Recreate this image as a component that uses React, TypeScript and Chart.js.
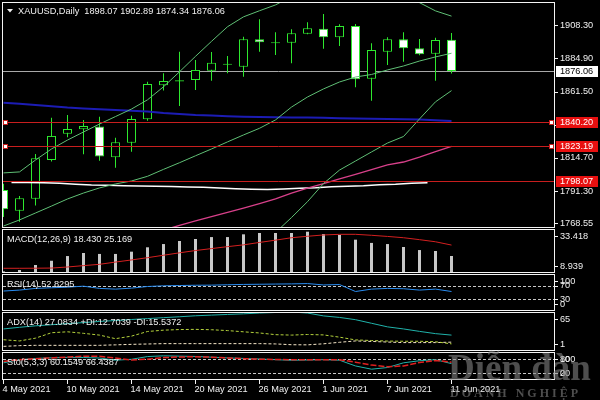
import React, { useEffect, useRef } from "react";
import { Chart, registerables } from "chart.js";

Chart.register(...registerables);

// ---------------- data ----------------
const DATES = ["2021-05-04","2021-05-05","2021-05-06","2021-05-07","2021-05-10","2021-05-11","2021-05-12","2021-05-13","2021-05-14","2021-05-17","2021-05-18","2021-05-19","2021-05-20","2021-05-21","2021-05-24","2021-05-25","2021-05-26","2021-05-27","2021-05-28","2021-05-31","2021-06-01","2021-06-02","2021-06-03","2021-06-04","2021-06-07","2021-06-08","2021-06-09","2021-06-10","2021-06-11"];
const DATE_TICK_INDEX = [0, 4, 8, 12, 16, 20, 24, 28];
const DATE_TICK_LABELS = ["4 May 2021","10 May 2021","14 May 2021","20 May 2021","26 May 2021","1 Jun 2021","7 Jun 2021","11 Jun 2021"];

const OPEN = [1792.0,1777.4,1785.9,1813.2,1831.8,1834.9,1836.8,1815.1,1825.4,1841.96,1865.97,1868.7,1869.7,1876.3,1880.5,1879.1,1898.4,1895.7,1896.0,1902.4,1905.9,1899.9,1907.8,1870.6,1889.7,1898.4,1892.1,1888.3,1898.07];
const HIGH = [1796.5,1787.8,1817.5,1843.1,1845.0,1841.5,1843.8,1829.0,1844.5,1868.5,1874.4,1889.7,1883.8,1889.5,1886.6,1900.3,1912.6,1903.4,1905.5,1910.4,1916.3,1909.0,1909.2,1895.6,1899.9,1903.4,1898.6,1899.6,1902.89];
const LOW = [1773.0,1769.7,1781.0,1812.1,1829.3,1817.2,1812.7,1807.8,1819.1,1841.0,1862.2,1851.3,1862.6,1869.2,1874.4,1872.0,1889.7,1887.4,1881.5,1902.0,1891.8,1893.7,1864.5,1855.1,1880.3,1882.6,1887.2,1869.2,1874.34];
const CLOSE = [1778.4,1786.2,1814.4,1830.2,1835.1,1837.2,1815.6,1825.7,1842.2,1866.9,1869.0,1869.5,1876.8,1881.9,1881.2,1898.4,1896.3,1896.4,1902.7,1906.2,1899.9,1907.8,1870.2,1890.9,1898.4,1892.1,1887.8,1897.9,1876.06];

const BB_UPPER = [1804.1,1804.8,1813.2,1821.0,1827.3,1833.0,1838.6,1843.9,1849.2,1855.7,1864.9,1875.5,1886.4,1897.0,1907.3,1914.3,1918.6,1922.7,1928.6,1931.6,1930.2,1930.5,1931.1,1928.3,1928.4,1929.4,1924.3,1918.5,1914.8];
const BB_MID = [1766.6,1770.9,1775.8,1780.7,1785.7,1789.9,1793.5,1796.3,1798.4,1801.7,1806.6,1811.3,1816.2,1821.0,1826.0,1830.9,1835.6,1841.5,1850.6,1857.7,1863.4,1868.3,1871.8,1873.6,1876.8,1879.6,1883.1,1886.0,1888.6];
const BB_LOWER = [null,null,null,null,null,null,null,null,null,null,null,null,null,null,null,null,null,1762.0,1772.6,1783.8,1796.6,1806.1,1812.5,1818.9,1825.2,1829.8,1842.2,1854.3,1862.2];
const MA_BLUE = [1853.6,1852.9,1852.1,1851.1,1850.2,1849.6,1849.1,1848.5,1848.0,1847.5,1846.4,1845.7,1845.0,1844.6,1844.1,1843.7,1843.5,1843.4,1843.3,1843.2,1843.0,1842.7,1842.5,1842.3,1842.2,1842.0,1841.8,1841.3,1840.8];
const MA_PINK = [null,null,null,null,null,null,null,null,null,null,1763.8,1767.0,1770.2,1773.2,1776.2,1779.3,1782.4,1785.7,1789.9,1793.3,1796.6,1799.8,1803.1,1806.5,1809.7,1811.8,1815.3,1819.2,1822.8];
// white average, displayed half a bar to the left
const MA_WHITE = [null,1797.4,1797.3,1797.1,1796.8,1796.1,1795.6,1795.4,1795.1,1794.9,1794.7,1794.5,1794.2,1793.9,1793.5,1793.0,1792.6,1792.4,1792.8,1793.3,1793.7,1794.4,1794.7,1795.1,1795.8,1796.1,1796.8,1797.2,null];

const PRICE_TICKS = [1908.30, 1884.90, 1861.50, 1838.10, 1814.70, 1791.30, 1768.55];
const LEVELS = [1840.20, 1823.19, 1798.07];
const SELECTED_LEVELS = [1840.20, 1823.19];

const MACD_MAIN = [8.939,9.8,12.9,15.5,18.4,20.3,19.7,19.7,21.1,23.8,25.8,27.7,28.9,30.1,30.1,31.8,32.6,32.6,32.6,33.418,32.0,31.4,28.5,26.5,25.8,24.0,22.1,21.5,18.430];
const MACD_SIGNAL = [10.85,10.85,10.9,11.0,11.65,12.5,13.3,14.7,16.0,17.4,18.9,20.4,21.8,23.0,24.2,25.3,26.8,28.2,29.7,30.6,31.4,31.8,31.8,31.2,30.5,29.7,28.5,27.2,25.169];
const MACD_TICKS = [33.418, 8.939];

const RSI = [54.2,56.9,61.7,63.6,65.3,68.1,61.7,59.7,62.5,67.2,69.2,70.0,70.8,71.1,72.2,73.1,73.6,74.2,74.7,75.6,71.7,72.8,52.8,59.7,61.7,60.8,56.9,59.7,52.8295];
const RSI_TICKS = [100, 70, 30, 0];
const RSI_LEVELS = [70, 30];

const ADX = [37.2,39.9,42.3,44.1,46.0,47.6,49.5,51.0,52.7,54.2,55.7,57.2,58.8,59.9,61.0,62.0,63.3,64.2,65.0,63.3,58.6,56.1,52.4,46.5,40.6,37.2,33.2,29.5,27.0834];
const PLUS_DI = [19.5,17.5,22.1,31.0,32.5,30.0,27.1,21.2,25.4,33.0,35.2,36.2,36.5,35.9,34.5,32.5,30.6,27.8,27.1,28.1,27.4,23.7,19.2,18.2,17.3,17.0,17.0,16.2,12.7039];
const MINUS_DI = [8.6,9.8,10.3,10.3,10.3,10.3,10.3,11.1,11.9,12.5,13.1,13.1,13.1,13.1,13.1,13.1,13.1,12.6,11.3,11.1,12.8,15.3,17.5,16.7,15.7,14.8,14.8,14.8,15.5372];
const ADX_TICKS = [65, 1];

const STO_MAIN = [63.6,77.1,82.4,85.1,86.9,86.5,84.2,74.8,78.8,90.5,93.6,92.3,90.9,87.8,84.7,82.4,80.2,77.1,74.4,75.7,77.1,74.8,50.2,36.3,43.5,63.6,72.6,77.1,60.1549];
const STO_SIGNAL = [69.4,77.1,81.5,84.7,88.3,91.8,91.8,83.8,75.7,79.3,86.0,88.7,89.6,87.8,84.7,81.5,79.3,78.0,77.1,77.1,77.1,77.1,66.3,53.8,47.0,50.2,65.0,73.9,66.4387];
const STO_TICKS = [100, 80, 20, 0];
const STO_LEVELS = [80, 20];

// ---------------- styling ----------------
const FONT = "9.2px 'Liberation Sans', Arial, sans-serif";
const TEXT = "#f0f0f0";
const FRAME = "#f4f4f4";
const CANDLE = "#2ee82e";
const BB_COLOR = "#5fbf75";
const LEVEL_RED = "#c81e1e";
const BOX_RED = "#e81010";

const AREA_LEFT = 2;
const AREA_RIGHT = 555;
const X_MIN = -0.09375;
const X_MAX = 34.46875;

type Panel = { top: number; bottom: number; min: number; max: number };
const MAIN_P: Panel = { top: 2, bottom: 228, min: 1765.2, max: 1924.77 };
const MACD_P: Panel = { top: 229, bottom: 273, min: 7.95, max: 35.08 };
const RSI_P: Panel = { top: 274, bottom: 311, min: -3, max: 103 };
const ADX_P: Panel = { top: 312, bottom: 351, min: 1, max: 65 };
const STO_P: Panel = { top: 352, bottom: 380, min: -10, max: 110 };

function baseOptions(p: Panel): any {
  return {
    responsive: false,
    animation: false,
    events: [],
    layout: { padding: { left: AREA_LEFT, right: 600 - AREA_RIGHT, top: p.top, bottom: 400 - p.bottom } },
    plugins: { legend: { display: false }, tooltip: { enabled: false }, title: { display: false } },
    scales: {
      x: { type: "linear", display: false, min: X_MIN, max: X_MAX, offset: false },
      y: { type: "linear", display: false, min: p.min, max: p.max },
    },
  };
}

function lineDs(label: string, values: (number | null)[], color: string, extra: any = {}, shift = 0): any {
  return {
    type: "line",
    label,
    data: values.map((v, i) => ({ x: i + shift, y: v })),
    borderColor: color,
    borderWidth: 1,
    pointRadius: 0,
    fill: false,
    tension: 0,
    spanGaps: false,
    order: 0,
    ...extra,
  };
}

function drawFrame(chart: any) {
  const { ctx, chartArea: a } = chart;
  ctx.save();
  ctx.strokeStyle = FRAME;
  ctx.lineWidth = 1;
  ctx.strokeRect(a.left + 0.5, a.top + 0.5, a.right - a.left - 1, a.bottom - a.top - 1);
  ctx.restore();
}

function drawRightLabels(chart: any, values: number[], fmt: (v: number) => string, margin: number) {
  const { ctx, chartArea: a, scales } = chart;
  const y = scales.y;
  ctx.save();
  ctx.font = FONT;
  ctx.fillStyle = TEXT;
  ctx.strokeStyle = FRAME;
  ctx.lineWidth = 1;
  ctx.textBaseline = "middle";
  ctx.textAlign = "left";
  for (const v of values) {
    const py = y.getPixelForValue(v);
    const ty = Math.min(Math.max(py, a.top + margin), a.bottom - margin);
    const ry = Math.round(ty) + 0.5;
    ctx.beginPath();
    ctx.moveTo(a.right, ry);
    ctx.lineTo(a.right + 3, ry);
    ctx.stroke();
    ctx.fillText(fmt(v), a.right + 5, ty);
  }
  ctx.restore();
}

function drawTitle(chart: any, text: string, x: number, dy: number) {
  const { ctx, chartArea: a } = chart;
  ctx.save();
  ctx.font = FONT;
  ctx.fillStyle = TEXT;
  ctx.textBaseline = "middle";
  ctx.textAlign = "left";
  ctx.fillText(text, x, a.top + dy);
  ctx.restore();
}

function drawLevels(chart: any, levels: number[], color: string, dash: number[]) {
  const { ctx, chartArea: a, scales } = chart;
  ctx.save();
  ctx.strokeStyle = color;
  ctx.lineWidth = 1;
  ctx.setLineDash(dash);
  for (const v of levels) {
    const py = Math.round(scales.y.getPixelForValue(v)) + 0.5;
    ctx.beginPath();
    ctx.moveTo(a.left + 1, py);
    ctx.lineTo(a.right - 1, py);
    ctx.stroke();
  }
  ctx.restore();
}

// ---------------- plugins ----------------
const mainDecor = {
  id: "mainDecor",
  beforeDatasetsDraw(chart: any) {
    drawLevels(chart, [CLOSE[CLOSE.length - 1]], "#a8a8a8", []);
  },
  afterDatasetsDraw(chart: any) {
    const { ctx, chartArea: a, scales } = chart;
    drawLevels(chart, LEVELS, LEVEL_RED, []);
    // selection handles on the levels
    ctx.save();
    for (const v of SELECTED_LEVELS) {
      const py = Math.round(scales.y.getPixelForValue(v));
      for (const hx of [a.left + 1, a.right - 6]) {
        ctx.fillStyle = "#ffffff";
        ctx.fillRect(hx, py - 2, 5, 5);
        ctx.strokeStyle = LEVEL_RED;
        ctx.strokeRect(hx + 0.5, py - 1.5, 4, 4);
      }
    }
    ctx.restore();
    drawFrame(chart);
    drawRightLabels(chart, PRICE_TICKS, (v) => v.toFixed(2), 3);
    // level price boxes
    ctx.save();
    ctx.font = FONT;
    ctx.textBaseline = "middle";
    ctx.textAlign = "left";
    const boxes = [
      ...LEVELS.map((v) => ({ v, bg: BOX_RED, fg: "#ffffff" })),
      { v: CLOSE[CLOSE.length - 1], bg: "#ffffff", fg: "#000000" },
    ];
    for (const b of boxes) {
      const py = scales.y.getPixelForValue(b.v);
      ctx.fillStyle = b.bg;
      ctx.fillRect(a.right + 1, Math.round(py) - 5, 42, 11);
      ctx.fillStyle = b.fg;
      ctx.fillText(b.v.toFixed(2), a.right + 5, py + 0.5);
    }
    ctx.restore();
    // title
    const n = OPEN.length - 1;
    ctx.save();
    ctx.fillStyle = TEXT;
    ctx.beginPath();
    ctx.moveTo(7, 9);
    ctx.lineTo(13, 9);
    ctx.lineTo(10, 12.5);
    ctx.closePath();
    ctx.fill();
    ctx.restore();
    drawTitle(
      chart,
      `XAUUSD,Daily  ${OPEN[n].toFixed(2)} ${HIGH[n].toFixed(2)} ${LOW[n].toFixed(2)} ${CLOSE[n].toFixed(2)}`,
      18,
      9
    );
  },
};

const macdDecor = {
  id: "macdDecor",
  afterDatasetsDraw(chart: any) {
    const n = MACD_MAIN.length - 1;
    drawFrame(chart);
    drawRightLabels(chart, MACD_TICKS, (v) => v.toFixed(3), 7);
    drawTitle(chart, `MACD(12,26,9) ${MACD_MAIN[n].toFixed(3)} ${MACD_SIGNAL[n].toFixed(3)}`, 7, 10);
  },
};

const rsiDecor = {
  id: "rsiDecor",
  beforeDatasetsDraw(chart: any) {
    drawLevels(chart, RSI_LEVELS, "#c8c8c8", [3, 2]);
  },
  afterDatasetsDraw(chart: any) {
    const n = RSI.length - 1;
    drawFrame(chart);
    drawRightLabels(chart, RSI_TICKS, (v) => String(v), 7);
    drawTitle(chart, `RSI(14) ${RSI[n].toFixed(4)}`, 7, 10);
  },
};

const adxDecor = {
  id: "adxDecor",
  afterDatasetsDraw(chart: any) {
    const n = ADX.length - 1;
    drawFrame(chart);
    drawRightLabels(chart, ADX_TICKS, (v) => String(v), 7);
    drawTitle(chart, `ADX(14) ${ADX[n].toFixed(4)} +DI:${PLUS_DI[n].toFixed(4)} -DI:${MINUS_DI[n].toFixed(4)}`, 7, 10);
  },
};

const stoDecor = {
  id: "stoDecor",
  beforeDatasetsDraw(chart: any) {
    drawLevels(chart, STO_LEVELS, "#c8c8c8", [3, 2]);
  },
  afterDatasetsDraw(chart: any) {
    const { ctx, chartArea: a, scales } = chart;
    const n = STO_MAIN.length - 1;
    drawFrame(chart);
    drawRightLabels(chart, STO_TICKS, (v) => String(v), 7);
    drawTitle(chart, `Sto(5,3,3) ${STO_MAIN[n].toFixed(4)} ${STO_SIGNAL[n].toFixed(4)}`, 7, 10);
    // date axis
    ctx.save();
    ctx.strokeStyle = FRAME;
    ctx.fillStyle = TEXT;
    ctx.lineWidth = 1;
    ctx.font = FONT;
    ctx.textBaseline = "middle";
    ctx.textAlign = "left";
    DATE_TICK_INDEX.forEach((idx, k) => {
      const px = Math.round(scales.x.getPixelForValue(idx) - 0.5) + 0.5;
      ctx.beginPath();
      ctx.moveTo(px, a.bottom);
      ctx.lineTo(px, a.bottom + 4);
      ctx.stroke();
      ctx.fillText(DATE_TICK_LABELS[k], px - 1, 389);
    });
    ctx.restore();
    // watermark
    ctx.save();
    ctx.fillStyle = "rgba(130,130,130,0.6)";
    ctx.textBaseline = "alphabetic";
    ctx.textAlign = "left";
    ctx.font = "bold 37px 'Liberation Serif', 'Times New Roman', serif";
    ctx.fillText("Diễn đàn", 448, 380);
    ctx.font = "bold 12px 'Liberation Serif', 'Times New Roman', serif";
    (ctx as any).letterSpacing = "3px";
    ctx.fillText("DOANH NGHIỆP", 450, 397);
    ctx.restore();
  },
};

// ---------------- configs ----------------
function mainConfig(): any {
  const bodyColors = CLOSE.map((c, i) => (c < OPEN[i] ? "#ffffff" : "#000000"));
  return {
    type: "bar",
    data: {
      datasets: [
        lineDs("BB upper", BB_UPPER, BB_COLOR),
        lineDs("BB middle", BB_MID, BB_COLOR),
        lineDs("BB lower", BB_LOWER, BB_COLOR),
        lineDs("MA blue", MA_BLUE, "#1c1cb4", { borderWidth: 2 }),
        lineDs("MA pink", MA_PINK, "#d8408a", { borderWidth: 1.3 }),
        lineDs("MA white", MA_WHITE, "#ffffff", { borderWidth: 1.5 }, -0.5),
        {
          type: "bar",
          label: "body",
          data: OPEN.map((o, i) => ({ x: i, y: [o, CLOSE[i]] })),
          backgroundColor: bodyColors,
          borderColor: CANDLE,
          borderWidth: 1,
          borderSkipped: false,
          barThickness: 9,
          grouped: false,
          inflateAmount: 0,
          order: 1,
        },
        {
          type: "bar",
          label: "wick",
          data: LOW.map((l, i) => ({ x: i, y: [l, HIGH[i]] })),
          backgroundColor: CANDLE,
          borderWidth: 0,
          barThickness: 1,
          grouped: false,
          inflateAmount: 0,
          order: 2,
        },
      ],
    },
    options: baseOptions(MAIN_P),
    plugins: [mainDecor],
  };
}

function macdConfig(): any {
  return {
    type: "bar",
    data: {
      datasets: [
        lineDs("Signal", MACD_SIGNAL, "#d42020"),
        {
          type: "bar",
          label: "MACD",
          data: MACD_MAIN.map((v, i) => ({ x: i, y: v })),
          backgroundColor: "#c8c8c8",
          borderWidth: 0,
          barThickness: 3,
          grouped: false,
          inflateAmount: 0,
          order: 1,
        },
      ],
    },
    options: baseOptions(MACD_P),
    plugins: [macdDecor],
  };
}

function rsiConfig(): any {
  return {
    type: "line",
    data: { datasets: [lineDs("RSI", RSI, "#2a8cf0")] },
    options: baseOptions(RSI_P),
    plugins: [rsiDecor],
  };
}

function adxConfig(): any {
  return {
    type: "line",
    data: {
      datasets: [
        lineDs("ADX", ADX, "#20b2aa"),
        lineDs("+DI", PLUS_DI, "#b4d23c", { borderDash: [3, 2] }),
        lineDs("-DI", MINUS_DI, "#f5e6c8", { borderDash: [3, 2] }),
      ],
    },
    options: baseOptions(ADX_P),
    plugins: [adxDecor],
  };
}

function stoConfig(): any {
  return {
    type: "line",
    data: {
      datasets: [
        lineDs("Signal", STO_SIGNAL, "#e02020", { borderDash: [6, 2], borderWidth: 1.5 }),
        lineDs("Main", STO_MAIN, "#20b2aa"),
      ],
    },
    options: baseOptions(STO_P),
    plugins: [stoDecor],
  };
}

export default function App() {
  const r0 = useRef<HTMLCanvasElement>(null);
  const r1 = useRef<HTMLCanvasElement>(null);
  const r2 = useRef<HTMLCanvasElement>(null);
  const r3 = useRef<HTMLCanvasElement>(null);
  const r4 = useRef<HTMLCanvasElement>(null);
  const refs = [r0, r1, r2, r3, r4];

  useEffect(() => {
    const cfgs = [mainConfig(), macdConfig(), rsiConfig(), adxConfig(), stoConfig()];
    const charts = refs.map((r, i) => new Chart(r.current as HTMLCanvasElement, cfgs[i]));
    return () => charts.forEach((c) => c.destroy());
  }, []);

  return (
    <div
      style={{
        position: "absolute",
        left: 0,
        top: 0,
        width: 600,
        height: 400,
        background: "#000000",
        overflow: "hidden",
      }}
      data-days={DATES.length}
    >
      {refs.map((r, i) => (
        <canvas
          key={i}
          ref={r}
          width={600}
          height={400}
          style={{ position: "absolute", left: 0, top: 0, width: 600, height: 400 }}
        />
      ))}
    </div>
  );
}
